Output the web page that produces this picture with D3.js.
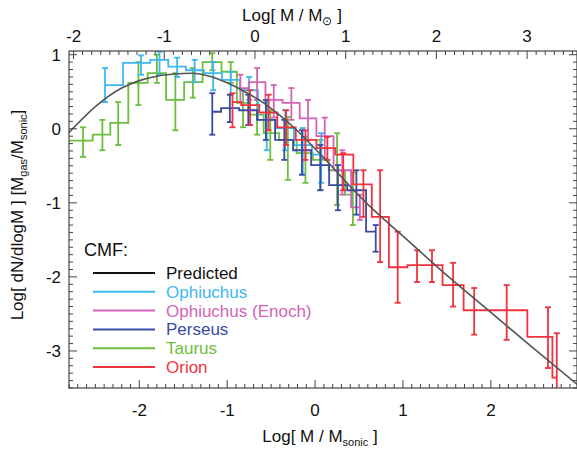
<!DOCTYPE html>
<html>
<head>
<meta charset="utf-8">
<script src="https://cdn.jsdelivr.net/npm/d3@7"></script>
<style>
  html, body { margin: 0; padding: 0; background: #fff; }
  svg text { font-family: "Liberation Sans", Arial, Helvetica, sans-serif; }
</style>
</head>
<body>
<div id="chart"></div>
<script>
// ---- data ----
// predicted CMF curve
const predX = [-2.8, -2.5, -2.2, -2.0, -1.8, -1.6, -1.4, -1.2, -1.0, -0.8, -0.6, -0.4, -0.2, 0, 0.2, 0.4, 0.6, 0.8, 1.0, 1.5, 2.0, 2.5, 3.0];
const predY = [-0.05, 0.30, 0.55, 0.65, 0.71, 0.74, 0.75, 0.71, 0.62, 0.50, 0.36, 0.18, -0.03, -0.27, -0.52, -0.78, -1.02, -1.24, -1.45, -1.98, -2.48, -2.98, -3.47];

// observed CMFs: bin centre, value, error top, error bottom
const taurusX  = [-2.86, -2.64, -2.42, -2.24, -2.01, -1.80, -1.59, -1.39, -1.17, -0.96, -0.82, -0.66, -0.51, -0.31, -0.11, 0.06, 0.25, 0.43];
const taurusY  = [-0.16, -0.16, -0.08, 0.08, 0.62, 0.75, 0.39, 0.63, 0.90, 0.77, 0.35, 0.19, -0.06, -0.15, -0.33, -0.42, -0.56, -0.89];
const taurusHi = [-0.16, 0.02, 0.12, 0.36, 0.90, 1.00, 0.75, 0.82, 1.02, 0.90, 0.52, 0.39, 0.25, 0.16, -0.11, -0.15, -0.06, -0.59];
const taurusLo = [-0.16, -0.38, -0.29, -0.22, 0.32, 0.62, -0.02, 0.42, 0.79, 0.62, 0.02, -0.08, -0.42, -0.69, -0.73, -0.83, -1.03, -1.30];

const ophX  = [-2.39, -1.98, -1.77, -1.57, -1.37, -1.16, -0.96, -0.75, -0.55, -0.34, -0.14, 0.07];
const ophY  = [0.59, 0.89, 0.93, 0.84, 0.79, 0.75, 0.66, 0.52, 0.12, 0.01, -0.22, -0.35];
const ophHi = [0.82, 0.99, 1.04, 0.96, 0.93, 0.90, 0.77, 0.70, 0.36, 0.25, 0.01, -0.06];
const ophLo = [0.36, 0.73, 0.73, 0.70, 0.63, 0.52, 0.46, 0.39, -0.29, -0.29, -0.62, -0.73];

const enochX  = [-0.85, -0.66, -0.47, -0.27, -0.08, 0.11, 0.31, 0.51];
const enochY  = [0.55, 0.63, 0.39, 0.35, 0.14, -0.10, -0.56, -1.06];
const enochHi = [0.73, 0.82, 0.59, 0.55, 0.39, 0.15, -0.29, -0.89];
const enochLo = [0.36, 0.39, 0.15, 0.12, -0.15, -0.40, -0.89, -1.23];

const perseusX  = [-1.17, -0.97, -0.76, -0.56, -0.35, -0.15, 0.06, 0.26, 0.47, 0.69];
const perseusY  = [0.23, 0.28, 0.25, 0.12, -0.15, -0.29, -0.49, -0.76, -0.83, -1.39];
const perseusHi = [0.48, 0.46, 0.46, 0.39, 0.12, -0.02, -0.22, -0.49, -0.56, -1.30];
const perseusLo = [-0.08, 0.09, 0.05, -0.15, -0.42, -0.62, -0.83, -1.10, -1.16, -1.66];

const orionX  = [-0.94, -0.74, -0.53, -0.33, -0.11, 0.14, 0.32, 0.55, 0.74, 0.94, 1.16, 1.33, 1.57, 1.81, 2.18, 2.65, 2.75];
const orionY  = [0.36, 0.32, 0.22, 0.02, -0.15, -0.26, -0.35, -0.75, -1.19, -1.87, -1.84, -1.84, -2.11, -2.45, -2.45, -2.81, -3.36];
const orionHi = [0.48, 0.52, 0.46, 0.25, -0.02, -0.11, -0.33, -0.56, -0.56, -1.39, -1.64, -1.64, -1.81, -2.15, -2.11, -2.41, -2.76];
const orionLo = [0.02, 0.05, -0.02, -0.22, -0.42, -0.42, -0.83, -1.19, -1.80, -2.35, -2.07, -2.07, -2.40, -2.78, -2.85, -3.23, -3.55];

const legendNames  = ["Predicted", "Ophiuchus", "Ophiuchus (Enoch)", "Perseus", "Taurus", "Orion"];
const legendColors = ["#111111", "#3db8ef", "#d263b6", "#3a4aa3", "#6cbe3c", "#f0323f"];

const xTicks = [-2, -1, 0, 1, 2];
const topTicks = [-2, -1, 0, 1, 2, 3];
const yTicks = [-3, -2, -1, 0, 1];

// ---- layout ----
const W = 577, H = 449;
const m = { left: 69, right: 0, top: 51, bottom: 61 };

const svg = d3.select("#chart").append("svg")
  .attr("width", W).attr("height", H);

const x = d3.scaleLinear().domain([-2.8, 2.98]).range([m.left, W - m.right]);
const xTop = d3.scaleLinear().domain([-2.05, 3.55]).range([m.left, W - m.right]);
const y = d3.scaleLinear().domain([-3.5, 1.05]).range([H - m.bottom, m.top]);

svg.append("clipPath").attr("id", "plotclip")
  .append("rect")
  .attr("x", m.left).attr("y", m.top)
  .attr("width", W - m.right - m.left).attr("height", H - m.bottom - m.top);

const plot = svg.append("g").attr("clip-path", "url(#plotclip)");

// observed histograms (IDL psym=10 style steps) with error bars
const series = [
  { xs: taurusX, ys: taurusY, hi: taurusHi, lo: taurusLo, color: legendColors[4] },
  { xs: ophX, ys: ophY, hi: ophHi, lo: ophLo, color: legendColors[1] },
  { xs: enochX, ys: enochY, hi: enochHi, lo: enochLo, color: legendColors[2] },
  { xs: perseusX, ys: perseusY, hi: perseusHi, lo: perseusLo, color: legendColors[3] },
  { xs: orionX, ys: orionY, hi: orionHi, lo: orionLo, color: legendColors[5] }
];

const step = d3.line()
  .x(d => x(d[0])).y(d => y(d[1]))
  .curve(d3.curveStep);

series.forEach(s => {
  const pts = s.xs.map((v, i) => [v, s.ys[i]]);
  const g = plot.append("g")
    .attr("stroke", s.color).attr("stroke-width", 1.8).attr("fill", "none");
  g.append("path").attr("d", step(pts));
  s.xs.forEach((v, i) => {
    const cx = x(v);
    g.append("line")
      .attr("x1", cx).attr("x2", cx)
      .attr("y1", y(s.hi[i])).attr("y2", y(s.lo[i]));
    [s.hi[i], s.lo[i]].forEach(e => {
      g.append("line")
        .attr("x1", cx - 3).attr("x2", cx + 3)
        .attr("y1", y(e)).attr("y2", y(e));
    });
  });
});

// predicted curve
const curve = d3.line()
  .x((d, i) => x(predX[i])).y(d => y(d))
  .curve(d3.curveMonotoneX);

plot.append("path")
  .attr("d", curve(predY))
  .attr("fill", "none")
  .attr("stroke", "#555")
  .attr("stroke-width", 1.6);

// ---- axes: IDL-like inward ticks ----
const axG = svg.append("g").attr("stroke", "#444").attr("fill", "none");
axG.append("rect")
  .attr("x", m.left).attr("y", m.top)
  .attr("width", W - m.right - m.left).attr("height", H - m.bottom - m.top)
  .attr("stroke-width", 1.2);

const bottomY = H - m.bottom, topY = m.top, leftX = m.left, rightX = W - m.right;

// bottom ticks
d3.range(-28, 30).map(v => v / 10).forEach(v => {
  const major = Math.abs(v - Math.round(v)) < 1e-6;
  const len = major ? 8 : 4;
  axG.append("line").attr("x1", x(v)).attr("x2", x(v))
    .attr("y1", bottomY).attr("y2", bottomY - len).attr("stroke-width", 1);
});
// top ticks (solar mass axis)
d3.range(-20, 36).map(v => v / 10).forEach(v => {
  const major = Math.abs(v - Math.round(v)) < 1e-6;
  const len = major ? 8 : 4;
  axG.append("line").attr("x1", xTop(v)).attr("x2", xTop(v))
    .attr("y1", topY).attr("y2", topY + len).attr("stroke-width", 1);
});
// left & right ticks
d3.range(-35, 11).map(v => v / 10).forEach(v => {
  const major = Math.abs(v - Math.round(v)) < 1e-6;
  const len = major ? 8 : 4;
  axG.append("line").attr("x1", leftX).attr("x2", leftX + len)
    .attr("y1", y(v)).attr("y2", y(v)).attr("stroke-width", 1);
  axG.append("line").attr("x1", rightX).attr("x2", rightX - len)
    .attr("y1", y(v)).attr("y2", y(v)).attr("stroke-width", 1);
});

const labels = svg.append("g").attr("fill", "#111").attr("font-size", 17);

xTicks.forEach(v => {
  labels.append("text").attr("x", x(v)).attr("y", bottomY + 28)
    .attr("text-anchor", "middle").text(v);
});
topTicks.forEach(v => {
  labels.append("text").attr("x", xTop(v)).attr("y", topY - 9)
    .attr("text-anchor", "middle").text(v);
});
yTicks.forEach(v => {
  labels.append("text").attr("x", leftX - 8).attr("y", y(v) + 6)
    .attr("text-anchor", "end").text(v);
});

// axis titles
const bt = labels.append("text").attr("x", 320).attr("y", 442).attr("text-anchor", "middle");
bt.append("tspan").text("Log[ M / M");
bt.append("tspan").attr("font-size", 11).attr("dy", 4).text("sonic");
bt.append("tspan").attr("dy", -4).text(" ]");

const tt = labels.append("text").attr("x", 292).attr("y", 21).attr("text-anchor", "middle");
tt.append("tspan").text("Log[ M / M");
tt.append("tspan").attr("font-size", 12).attr("dy", 4).text("\u2299");
tt.append("tspan").attr("dy", -4).text(" ]");

const lt = labels.append("text")
  .attr("transform", "translate(23,215) rotate(-90)")
  .attr("text-anchor", "middle");
lt.append("tspan").text("Log[ dN/dlogM ]  [M");
lt.append("tspan").attr("font-size", 11).attr("dy", 4).text("gas");
lt.append("tspan").attr("dy", -4).text("/M");
lt.append("tspan").attr("font-size", 11).attr("dy", 4).text("sonic");
lt.append("tspan").attr("dy", -4).text("]");

// ---- legend ----
const leg = svg.append("g");
leg.append("text").attr("x", 84).attr("y", 256).attr("font-size", 18)
  .attr("fill", "#111").text("CMF:");
legendNames.forEach((name, i) => {
  const ly = 273 + i * 18.8;
  leg.append("line").attr("x1", 93).attr("x2", 155).attr("y1", ly).attr("y2", ly)
    .attr("stroke", legendColors[i]).attr("stroke-width", 2);
  leg.append("text").attr("x", 166).attr("y", ly + 6).attr("font-size", 17)
    .attr("fill", legendColors[i]).text(name);
});
</script>
</body>
</html>
